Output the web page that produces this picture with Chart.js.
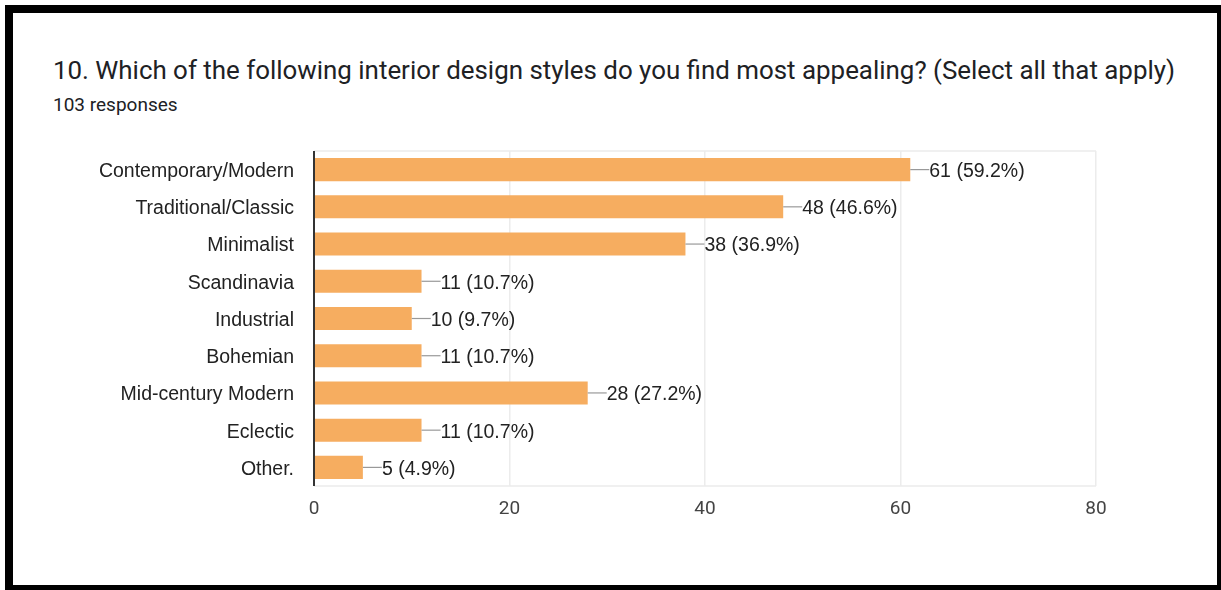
<!DOCTYPE html>
<html>
<head>
<meta charset="utf-8">
<script src="https://cdn.jsdelivr.net/npm/chart.js@4"></script>
<style>
  html, body { margin: 0; padding: 0; background: #fff; }
  body { width: 1221px; height: 590px; position: relative; overflow: hidden; }
  #frame { position: absolute; left: 5px; top: 5px; width: 1216px; height: 585px; box-sizing: border-box;
           border-left: 8px solid #000; border-top: 8px solid #000; border-right: 4px solid #000; border-bottom: 5px solid #000; }
  #title { position: absolute; left: 53px; top: 57px; font-family: Roboto, sans-serif; font-size: 25.9px; line-height: 26px; color: #202124; white-space: nowrap; }
  #sub { position: absolute; left: 53px; top: 95px; font-family: Roboto, sans-serif; font-size: 19px; line-height: 19px; color: #202124; white-space: nowrap; }
  #wrap { position: absolute; left: 0; top: 0; width: 1221px; height: 590px; }
</style>
</head>
<body>
<div id="frame"></div>
<div id="title">10. Which of the following interior design styles do you find most appealing? (Select all that apply)</div>
<div id="sub">103 responses</div>
<div id="wrap"><canvas id="c" width="1221" height="590"></canvas></div>
<script>
const categories = ["Contemporary/Modern", "Traditional/Classic", "Minimalist", "Scandinavia", "Industrial", "Bohemian", "Mid-century Modern", "Eclectic", "Other."];
const counts = [61, 48, 38, 11, 10, 11, 28, 11, 5];
const percents = ["59.2%", "46.6%", "36.9%", "10.7%", "9.7%", "10.7%", "27.2%", "10.7%", "4.9%"];
const xTicks = [0, 20, 40, 60, 80];

const framePlugin = {
  id: 'frame',
  beforeDatasetsDraw(chart) {
    const a = chart.chartArea, ctx = chart.ctx;
    ctx.save();
    ctx.strokeStyle = '#ececec';
    ctx.lineWidth = 1.5;
    ctx.beginPath();
    ctx.moveTo(a.left, a.top); ctx.lineTo(a.right, a.top);
    ctx.moveTo(a.left, a.bottom); ctx.lineTo(a.right, a.bottom);
    ctx.stroke();
    ctx.restore();
  },
  afterDatasetsDraw(chart) {
    const a = chart.chartArea, ctx = chart.ctx;
    ctx.save();
    ctx.strokeStyle = '#333';
    ctx.lineWidth = 2;
    ctx.beginPath();
    ctx.moveTo(a.left, a.top); ctx.lineTo(a.left, a.bottom);
    ctx.stroke();
    const meta = chart.getDatasetMeta(0);
    ctx.font = '19.5px "Liberation Sans", Arial, sans-serif';
    ctx.fillStyle = '#222';
    ctx.textBaseline = 'middle';
    ctx.textAlign = 'left';
    meta.data.forEach((bar, i) => {
      const x = bar.x, y = bar.y;
      ctx.strokeStyle = '#999';
      ctx.lineWidth = 1.2;
      ctx.beginPath();
      ctx.moveTo(x, y); ctx.lineTo(x + 19, y);
      ctx.stroke();
      ctx.fillText(counts[i] + ' (' + percents[i] + ')', x + 19, y + 2);
    });
    ctx.restore();
  }
};

new Chart(document.getElementById('c'), {
  type: 'bar',
  data: {
    labels: categories,
    datasets: [{
      data: counts,
      backgroundColor: '#f6ad60',
      borderWidth: 0,
      barPercentage: 0.62,
      categoryPercentage: 1.0
    }]
  },
  options: {
    indexAxis: 'y',
    responsive: false,
    animation: false,
    events: [],
    layout: { padding: { left: 0, right: 125, top: 151, bottom: 0 } },
    plugins: { legend: { display: false }, tooltip: { enabled: false } },
    scales: {
      x: {
        min: 0, max: 80,
        afterBuildTicks(scale) { scale.ticks = xTicks.map(v => ({ value: v })); },
        afterFit(scale) { scale.height = 104; },
        grid: { color: '#ececec', lineWidth: 1.5, drawTicks: false },
        border: { display: false },
        ticks: { padding: 12, color: '#444', font: { family: 'Roboto, sans-serif', size: 19 } }
      },
      y: {
        afterFit(scale) { scale.width = 314; },
        grid: { display: false, drawTicks: false },
        border: { display: false },
        ticks: { padding: 20, labelOffset: 2, color: '#222', font: { family: '"Liberation Sans", Arial, sans-serif', size: 19.5 } }
      }
    }
  },
  plugins: [framePlugin]
});
</script>
</body>
</html>
